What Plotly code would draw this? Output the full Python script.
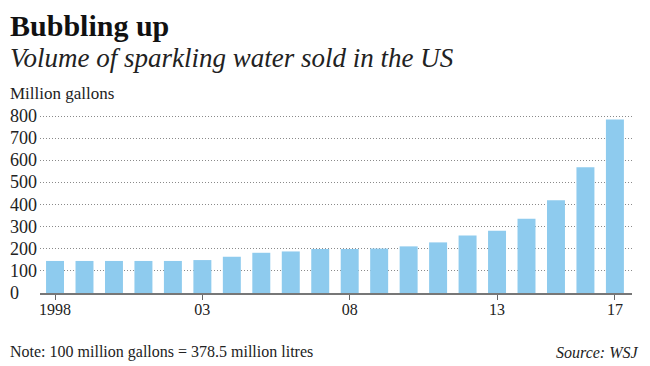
import plotly.graph_objects as go

years = list(range(1998, 2018))
volume = [145, 145, 145, 145, 145, 149, 164, 182, 188, 199,
          199, 201, 211, 229, 260, 282, 336, 420, 569, 785]
x_tick_vals = [1998, 2003, 2008, 2013, 2017]
x_tick_text = ["1998", "03", "08", "13", "17"]
y_tick_vals = [0, 100, 200, 300, 400, 500, 600, 700, 800]

FONT = "Liberation Serif, Times New Roman, serif"
TXT = "#222222"

# page-pixel -> paper helpers (plot area: x 40..632, y 110..293 in page pixels)
def px(x):
    return (x - 40) / 592.0

def py(y):
    return (293 - y) / 183.0

fig = go.Figure()
fig.add_trace(go.Bar(x=years, y=volume, marker=dict(color="#8ecbee", line=dict(width=0)),
                     hoverinfo="x+y"))

# page has an 8px body margin, so the figure is 642x358
fig.update_layout(
    width=642, height=358,
    margin=dict(l=32, r=18, t=102, b=73),
    paper_bgcolor="white", plot_bgcolor="white",
    bargap=0.39, showlegend=False,
    font=dict(family=FONT, color=TXT, size=16),
    xaxis=dict(range=[1997.49, 2017.58], tickmode="array", tickvals=x_tick_vals,
               ticktext=x_tick_text, ticks="outside", ticklen=5, tickcolor="#666",
               tickwidth=1, ticklabelstandoff=-4, showgrid=False, zeroline=False,
               showline=True, linecolor="#777", linewidth=1.5,
               tickfont=dict(size=16, color=TXT, family=FONT)),
    yaxis=dict(range=[0, 828], tickmode="array", tickvals=y_tick_vals,
               showticklabels=False, showgrid=True, gridcolor="#8a8a8a",
               griddash="1px,2px", gridwidth=1, zeroline=False, showline=False),
)

LEFT = 7.5
for v in y_tick_vals:
    fig.add_annotation(x=px(LEFT), y=v, xref="paper", yref="y", text=str(v),
                       showarrow=False, xanchor="left", yanchor="middle",
                       font=dict(size=18, color=TXT, family=FONT))

texts = [
    ("<b>Bubbling up</b>", px(LEFT), py(35 - 9.0), 30, "left", "#111111"),
    ("<i>Volume of sparkling water sold in the US</i>", px(LEFT), py(66 - 8.1), 27, "left", TXT),
    ("Million gallons", px(LEFT), py(99 - 5.1), 17, "left", TXT),
    ("Note: 100 million gallons = 378.5 million litres", px(LEFT), py(357 - 4.8), 16, "left", TXT),
    ("<i>Source: WSJ</i>", px(640), py(357 - 4.8), 16, "right", TXT),
]
for t, x, y, s, anchor, col in texts:
    fig.add_annotation(x=x, y=y, xref="paper", yref="paper", text=t, showarrow=False,
                       xanchor=anchor, yanchor="middle",
                       font=dict(size=s, color=col, family=FONT))

fig.write_html("out.html")
